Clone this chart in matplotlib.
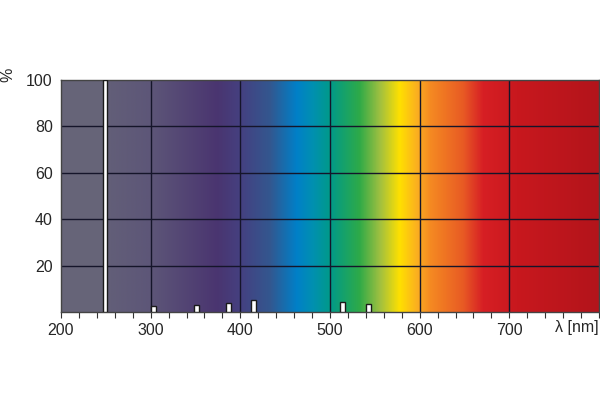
import numpy as np
import matplotlib
matplotlib.use('Agg')
import matplotlib.pyplot as plt
from matplotlib.colors import LinearSegmentedColormap

# spectrum colour stops (wavelength nm, colour)
stop_nm = [200, 247, 255, 300, 374, 400, 433, 463, 481, 500, 533, 556, 578, 597, 612, 649, 671, 709, 800]
stop_col = ['#676579', '#666478', '#625e78', '#5d5678', '#4a3570', '#454080', '#33578f', '#0080c8',
            '#0090b0', '#009a8a', '#2eaa48', '#a0c040', '#ffe000', '#fbb020', '#f58a22', '#e85a24',
            '#d71f24', '#c8181e', '#b3141b']

# emission lines
line_nm = [249, 303, 351, 387, 415, 514, 543]
line_pct = [100, 2.6, 3.0, 3.7, 5.0, 4.2, 3.3]
line_w = [5, 6, 6, 6, 6, 6, 6]

xticks = [200, 300, 400, 500, 600, 700]
yticks = [20, 40, 60, 80, 100]

plt.rcParams['font.family'] = ['Liberation Sans', 'DejaVu Sans']
txt_col = '#262626'

fig = plt.figure(figsize=(6, 4.11), dpi=100)
ax = fig.add_axes([61/600, 1-312/411, 538/600, (312-80)/411])

pos = [(v - 200) / 600 for v in stop_nm]
cmap = LinearSegmentedColormap.from_list('spec', list(zip(pos, stop_col)), N=1024)
grad = np.linspace(0, 1, 1200).reshape(1, -1)
ax.imshow(grad, cmap=cmap, extent=[200, 800, 0, 100], aspect='auto', zorder=0)

for x in [300, 400, 500, 600, 700]:
    ax.axvline(x, color='#15152a', lw=1.0, zorder=1)
for y in [20, 40, 60, 80]:
    ax.axhline(y, color='#15152a', lw=1.0, zorder=1)

ax.bar(line_nm, line_pct, width=line_w, color='white', edgecolor='#1a1a1a', lw=1.0, zorder=3)

ax.set_xlim(200, 800)
ax.set_ylim(0, 100)
ax.set_xticks(xticks)
ax.set_xticks(np.arange(200, 801, 20), minor=True)
ax.set_yticks(yticks)
ax.tick_params(axis='x', which='both', direction='out', length=4, width=0.8, color='#333333',
               labelsize=11.5, pad=4, labelcolor=txt_col)
ax.tick_params(axis='y', length=0, labelsize=11.5, pad=6, labelcolor=txt_col)
for s in ax.spines.values():
    s.set_color('#444444')
    s.set_linewidth(1.0)

ax.text(800, -3.5, 'λ [nm]', ha='right', va='top', fontsize=11.5, color=txt_col,
        transform=ax.transData, clip_on=False)
fig.text(8/600, 1-75/411, '%', rotation=90, ha='center', va='center', fontsize=11.5,
         color=txt_col)

fig.savefig('out.png', dpi=100)
